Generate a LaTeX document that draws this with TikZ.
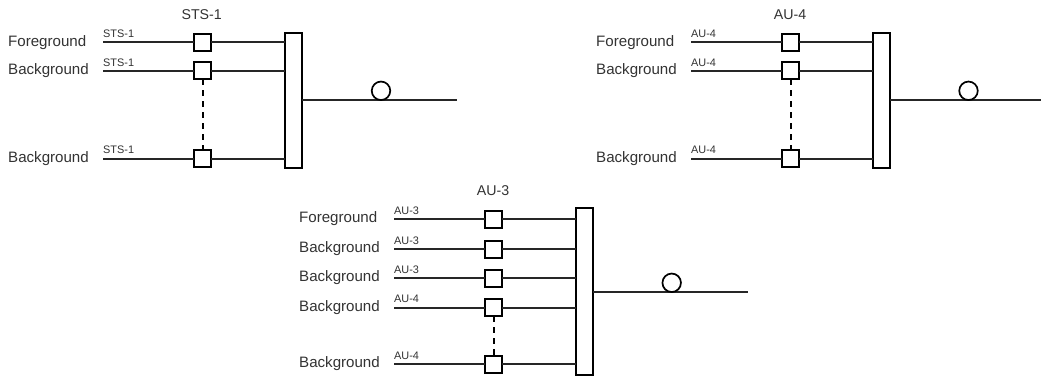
\documentclass[tikz,border=0pt]{standalone}
\usepackage{fontspec}
\setmainfont{Liberation Sans}
\definecolor{txt}{HTML}{333333}
\tikzset{
  wire/.style={draw=black!85,line width=2pt},
  boxnode/.style={draw=black,fill=white,line width=2pt,minimum width=17pt,minimum height=17pt,inner sep=0pt,outer sep=0pt},
  muxnode/.style={draw=black,fill=white,line width=2pt,minimum width=17pt,inner sep=0pt,outer sep=0pt},
  ringnode/.style={circle,draw=black,line width=1.7pt,minimum size=18.5pt,inner sep=0pt},
  bigtext/.style={text=txt,font=\fontsize{15.1}{16}\selectfont,inner sep=0pt,anchor=base west},
  smalltext/.style={text=txt,font=\fontsize{10.9}{12}\selectfont,inner sep=0pt,anchor=base west},
  titletext/.style={text=txt,font=\fontsize{14.2}{16}\selectfont,inner sep=0pt,anchor=base},
  dashwire/.style={draw=black,line width=2pt,dash pattern=on 6pt off 5pt}
}
% prefix, row, y, side label, signal label, label x, line x
\newcommand{\sigrow}[7]{%
  \node[bigtext] (#1-l#2) at (#6,#3+3.6) {#4};
  \coordinate (#1-s#2) at (#7,#3);
  \node[boxnode] (#1-b#2) at (#7+99.5,#3) {};
  \node[smalltext] (#1-t#2) at (#7,#3-4.6) {#5};
  \draw[wire] (#1-s#2) -- (#1-b#2.west);
  \draw[wire] (#1-b#2.east) -- (#1-b#2.east -| #1-m.west);
}
% prefix, mux centre x, mux top, mux bottom, output y, circle x, end x
\newcommand{\muxblock}[7]{%
  \pgfmathsetmacro{\muxh}{#4-#3}%
  \pgfmathsetmacro{\muxc}{(#3+#4)/2}%
  \node[muxnode,minimum height=\muxh pt] (#1-m) at (#2,\muxc) {};
  \coordinate (#1-e) at (#7,#5);
  \draw[wire] (#1-m.east |- #1-e) -- (#1-e);
  \node[ringnode] (#1-r) at (#6,#5-9.2) {};
}
\begin{document}
\begin{tikzpicture}[x=1pt,y=-1pt]
\useasboundingbox (0,0) rectangle (1041,377);
\fill[white] (0,0) rectangle (1041,377);

\muxblock{a}{293.5}{33.5}{167.5}{100}{381}{457}
\node[titletext] (a-title) at (201.7,20) {STS-1};
\sigrow{a}{1}{42.5}{Foreground}{STS-1}{8}{103}
\sigrow{a}{2}{71}{Background}{STS-1}{8}{103}
\sigrow{a}{3}{158.5}{Background}{STS-1}{8}{103}
\draw[dashwire] (a-b2.south) -- (a-b3.north);

\muxblock{b}{881.5}{33.5}{167.5}{100}{968.5}{1041}
\node[titletext] (b-title) at (790,20) {AU-4};
\sigrow{b}{1}{42.5}{Foreground}{AU-4}{596}{691}
\sigrow{b}{2}{71}{Background}{AU-4}{596}{691}
\sigrow{b}{3}{158.5}{Background}{AU-4}{596}{691}
\draw[dashwire] (b-b2.south) -- (b-b3.north);

\muxblock{c}{584.5}{207.7}{375}{292}{671.7}{747.7}
\node[titletext] (c-title) at (493,195) {AU-3};
\sigrow{c}{1}{219.3}{Foreground}{AU-3}{299}{394}
\sigrow{c}{2}{249}{Background}{AU-3}{299}{394}
\sigrow{c}{3}{278}{Background}{AU-3}{299}{394}
\sigrow{c}{4}{307.5}{Background}{AU-4}{299}{394}
\sigrow{c}{5}{364}{Background}{AU-4}{299}{394}
\draw[dashwire] (c-b4.south) -- (c-b5.north);
\end{tikzpicture}
\end{document}
